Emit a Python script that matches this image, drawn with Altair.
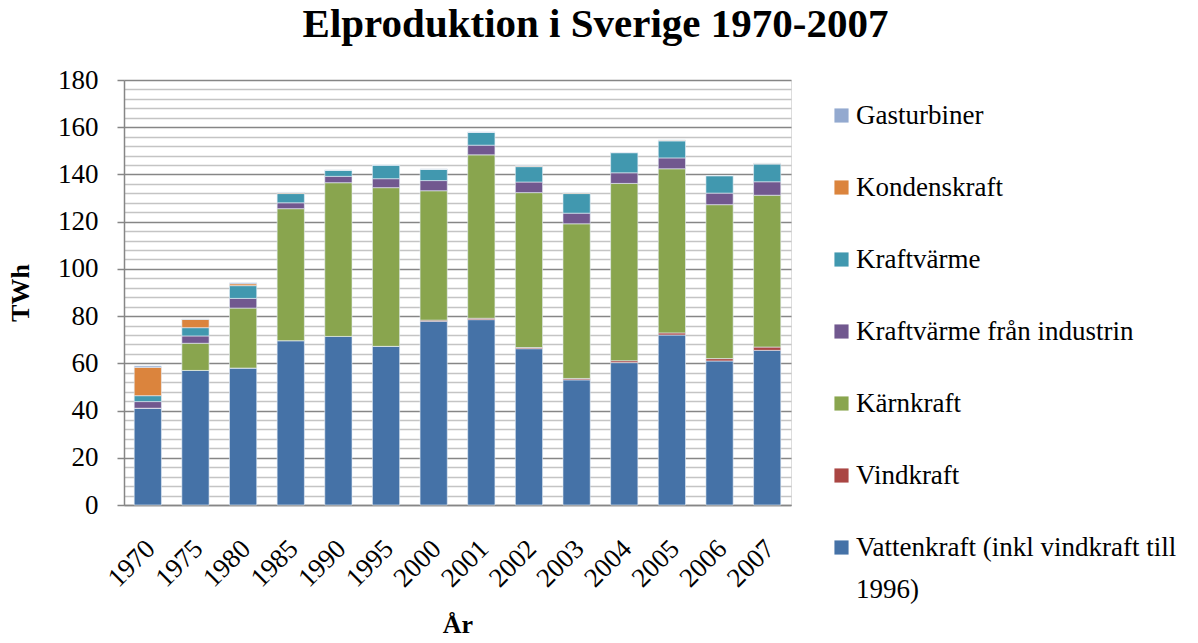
import altair as alt
import pandas as pd

years = ["1970", "1975", "1980", "1985", "1990", "1995", "2000", "2001",
         "2002", "2003", "2004", "2005", "2006", "2007"]

series_names = ["Vattenkraft (inkl vindkraft till 1996)", "Vindkraft", "Kärnkraft",
                "Kraftvärme från industrin", "Kraftvärme", "Kondenskraft", "Gasturbiner"]
series_colors = ["#4572A7", "#AA4643", "#89A54E", "#71588F", "#4198AF", "#DB843D", "#93A9CF"]

vattenkraft = [41.0, 57.0, 58.0, 69.6, 71.4, 67.2, 77.8, 78.5, 66.2, 53.0, 60.3, 72.0, 61.0, 65.5]
vindkraft = [0, 0, 0, 0, 0, 0, 0.5, 0.6, 0.5, 0.6, 0.8, 0.9, 1.0, 1.4]
karnkraft = [0, 11.5, 25.4, 55.9, 65.1, 67.2, 54.8, 69.2, 65.6, 65.5, 75.1, 69.5, 65.2, 64.3]
kv_industri = [2.8, 3.1, 4.1, 2.5, 2.7, 3.8, 4.3, 4.1, 4.5, 4.5, 4.5, 4.6, 4.9, 5.7]
kraftvarme = [2.5, 3.5, 5.4, 3.9, 2.6, 5.8, 4.8, 5.5, 6.5, 8.3, 8.5, 7.2, 7.4, 7.5]
kondenskraft = [12.0, 3.5, 0.8, 0.4, 0, 0, 0, 0, 0.3, 0.4, 0.1, 0.3, 0, 0.3]
gasturbiner = [0.6, 0.1, 0.4, 0.1, 0, 0, 0, 0, 0.1, 0, 0, 0, 0, 0]

series_values = [vattenkraft, vindkraft, karnkraft, kv_industri, kraftvarme, kondenskraft, gasturbiner]

y_ticks = list(range(0, 181, 4))

rows = []
for si, (name, vals) in enumerate(zip(series_names, series_values)):
    for yr, v in zip(years, vals):
        rows.append({"År": yr, "Typ": name, "TWh": v, "ordning": si})
df = pd.DataFrame(rows)

FONT = "Liberation Serif"
legend_domain = list(reversed(series_names))
legend_range = list(reversed(series_colors))

bars = alt.Chart(df).mark_bar(stroke="#e8eef6", strokeWidth=0.6).encode(
    x=alt.X("År:N", sort=years,
            scale=alt.Scale(paddingInner=0.4286, paddingOuter=0.2143),
            axis=alt.Axis(title="År", labelAngle=-45, labelFontSize=27, labelFont=FONT,
                          labelColor="#000000", titleFont=FONT, titleFontSize=26,
                          titleFontWeight="bold", titleColor="#000000", titlePadding=20,
                          ticks=False, domainColor="#868686", domainWidth=1.5,
                          labelPadding=30, labelOffset=-6, grid=False)),
    y=alt.Y("TWh:Q", stack="zero",
            scale=alt.Scale(domain=[0, 180], nice=False),
            axis=alt.Axis(title="TWh", values=y_ticks,
                          labelExpr="datum.value % 20 == 0 ? datum.label : ''",
                          labelFontSize=27, labelFont=FONT, labelColor="#000000",
                          titleFont=FONT, titleFontSize=26, titleFontWeight="bold",
                          titleColor="#000000", titlePadding=24,
                          grid=True, gridWidth=1.5,
                          gridColor=alt.condition("datum.value % 20 == 0", alt.value("#868686"), alt.value("#c4c4c4")),
                          tickColor="#868686", tickSize=7, tickWidth=1.5,
                          tickOpacity=alt.condition("datum.value % 20 == 0", alt.value(1), alt.value(0)),
                          domainColor="#868686", domainWidth=1.5, labelPadding=19)),
    color=alt.Color("Typ:N",
                    scale=alt.Scale(domain=legend_domain, range=legend_range),
                    legend=alt.Legend(title=None, orient="none", legendX=704, legendY=22,
                                      symbolType="square", symbolSize=200, symbolStrokeWidth=0,
                                      labelFont=FONT, labelFontSize=27, labelColor="#000000",
                                      labelLimit=400, rowPadding=44, padding=0, labelOffset=1,
                                      labelExpr="datum.label == 'Vattenkraft (inkl vindkraft till 1996)' ? ['Vattenkraft (inkl vindkraft till', '1996)'] : datum.label")),
    order=alt.Order("ordning:Q", sort="ascending"),
)

chart = bars.properties(
    width=667, height=425,
    title=alt.TitleParams("Elproduktion i Sverige 1970-2007", font=FONT, fontSize=41,
                          fontWeight="bold", color="#000000", anchor="middle", dx=138, offset=20),
    autosize=alt.AutoSizeParams(type="none"),
    padding={"left": 116, "top": 72, "right": 399, "bottom": 130},
).configure_view(stroke=None).configure(
    background="white",
    style={"guide-label": {"lineHeight": 42}},
)

chart.save("out.html", embed_options={"renderer": "svg", "actions": False})
